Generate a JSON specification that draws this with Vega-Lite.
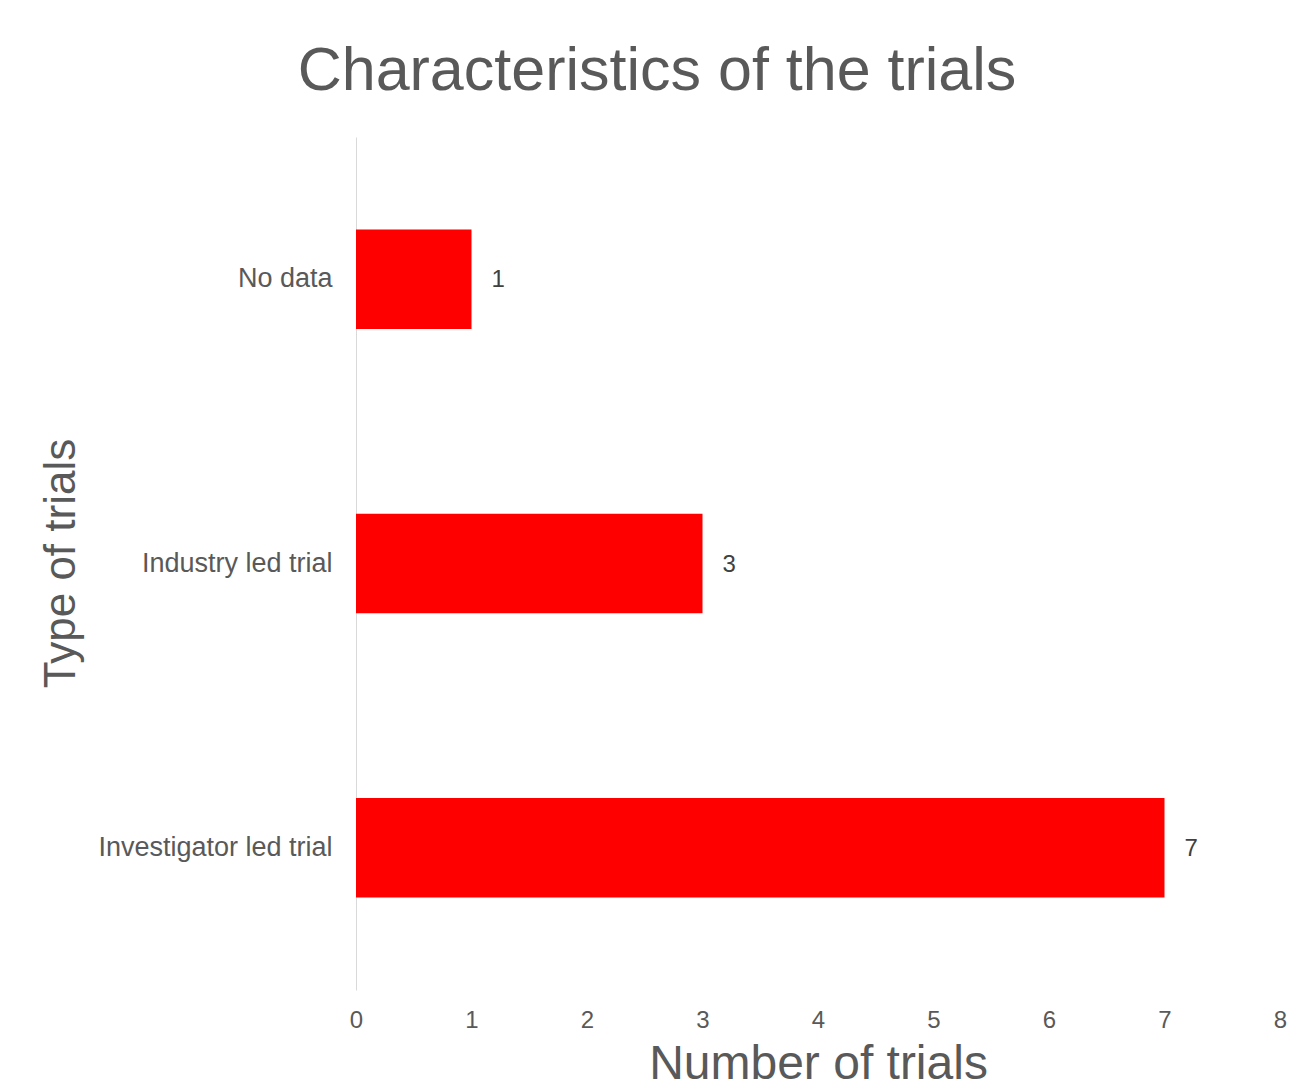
{
  "$schema": "https://vega.github.io/schema/vega-lite/v6.json",
  "width": 924,
  "height": 853,
  "autosize": {"type": "none"},
  "padding": {"left": 356, "top": 137, "right": 11, "bottom": 99},
  "background": "white",
  "config": {
    "view": {"stroke": null},
    "font": "Liberation Sans",
    "text": {"font": "Liberation Sans"}
  },
  "title": {
    "text": "Characteristics of the trials",
    "fontSize": 61,
    "font": "Liberation Sans",
    "fontWeight": "normal",
    "color": "#595959",
    "anchor": "middle",
    "frame": "group",
    "dx": -161,
    "baseline": "alphabetic",
    "offset": -14
  },
  "data": {
    "values": [
      {"type": "No data", "count": 1},
      {"type": "Industry led trial", "count": 3},
      {"type": "Investigator led trial", "count": 7}
    ]
  },
  "encoding": {
    "y": {
      "field": "type",
      "type": "nominal",
      "sort": ["No data", "Industry led trial", "Investigator led trial"],
      "scale": {"paddingInner": 0.65, "paddingOuter": 0.325},
      "axis": {
        "title": "Type of trials",
        "titleFontSize": 44,
        "titleFont": "Liberation Sans",
        "titleFontWeight": "normal",
        "titleColor": "#595959",
        "titleX": -282,
        "titleY": 426,
        "titleBaseline": "alphabetic",
        "titleAngle": 270,
        "labelFontSize": 27,
        "labelFont": "Liberation Sans",
        "labelColor": "#595959",
        "labelPadding": 24,
        "labelLimit": 400,
        "ticks": false,
        "domainColor": "#d9d9d9",
        "domainWidth": 1
      }
    },
    "x": {
      "field": "count",
      "type": "quantitative",
      "scale": {"domain": [0, 8], "nice": false},
      "axis": {
        "title": "Number of trials",
        "titleFontSize": 48,
        "titleFont": "Liberation Sans",
        "titleFontWeight": "normal",
        "titleColor": "#595959",
        "titleBaseline": "alphabetic",
        "titleY": 88,
        "titleX": 462,
        "values": [0, 1, 2, 3, 4, 5, 6, 7, 8],
        "labelFontSize": 24,
        "labelFont": "Liberation Sans",
        "labelColor": "#595959",
        "labelPadding": 18,
        "labelFlush": false,
        "ticks": false,
        "domain": false,
        "grid": false
      }
    }
  },
  "layer": [
    {"mark": {"type": "bar", "color": "#ff0000"}},
    {
      "mark": {
        "type": "text",
        "align": "left",
        "baseline": "middle",
        "dx": 20,
        "dy": 1,
        "fontSize": 24,
        "color": "#404040",
        "font": "Liberation Sans"
      },
      "encoding": {"text": {"field": "count", "type": "quantitative"}}
    }
  ]
}
